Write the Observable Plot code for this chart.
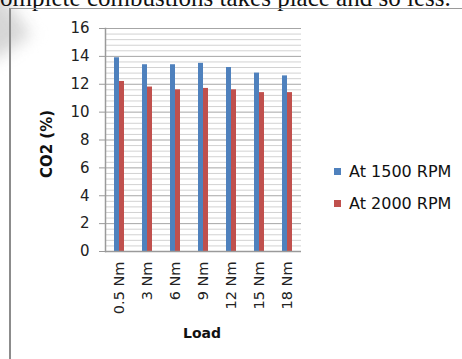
<!DOCTYPE html>
<html>
<head>
<meta charset="utf-8">
<script src="https://cdn.jsdelivr.net/npm/d3@7"></script>
<script src="https://cdn.jsdelivr.net/npm/@observablehq/plot@0.6"></script>
<style>
  html, body { margin: 0; padding: 0; background: #fff; }
  #page { position: relative; width: 462px; height: 359px; overflow: hidden; background: #fff; }
  #textline { position: absolute; left: -11px; top: -15.5px; font: 25px/25px "Liberation Serif", "Times New Roman", serif; color: #111; white-space: nowrap; }
  #shade { position: absolute; left: -30px; top: -6px; width: 48px; height: 60px; background: #d6d6d6; filter: blur(8px); transform: rotate(-35deg); }
  #box { position: absolute; left: 9px; top: 8px; width: 480px; height: 380px; border-left: 2px solid #8c8c8c; border-top: 1.5px solid #9a9a9a; box-sizing: border-box; }
  #chart { position: absolute; left: 0; top: 0; }
  .ytitle { position: absolute; left: 47px; top: 144px; transform: translate(-50%, -50%) rotate(-90deg); font: bold 15px "DejaVu Sans", sans-serif; color: #111; white-space: nowrap; }
  .xtitle { position: absolute; left: 202px; top: 333px; transform: translate(-50%, -50%); font: bold 14px "DejaVu Sans", sans-serif; color: #111; }
  #legend { position: absolute; left: 334px; top: 162px; font: 16px "DejaVu Sans", sans-serif; color: #111; }
  #legend .item { display: flex; align-items: center; height: 18px; margin-bottom: 14px; }
  #legend .sw { width: 7px; height: 7px; margin-right: 8px; }
</style>
</head>
<body>
<div id="page">
  <div id="shade"></div>
  <div id="textline">complete combustions takes place and so less.</div>
  <div id="box"></div>
  <div id="chart"></div>
  <div class="ytitle">CO2 (%)</div>
  <div class="xtitle">Load</div>
  <div id="legend"></div>
</div>
<script>
// CO2 emission (%) per engine load, at two engine speeds
const loads = ["0.5 Nm", "3 Nm", "6 Nm", "9 Nm", "12 Nm", "15 Nm", "18 Nm"];
const rpm1500 = [13.9, 13.4, 13.4, 13.5, 13.2, 12.8, 12.6];
const rpm2000 = [12.2, 11.8, 11.6, 11.7, 11.6, 11.4, 11.4];
const seriesNames = ["At 1500 RPM", "At 2000 RPM"];
const seriesColors = ["#4f81bd", "#c0504d"];
const yTicks = [0, 2, 4, 6, 8, 10, 12, 14, 16];

// long table: one row per bar
const rows = [];
loads.forEach((load, i) => {
  rows.push({load, series: seriesNames[0], value: rpm1500[i]});
  rows.push({load, series: seriesNames[1], value: rpm2000[i]});
});

// minor gridlines every 0.4 between the major ticks
const minorTicks = d3.range(0, 80 + 1).map(k => k * 0.2).filter((v, k) => k % 2 === 0 && k % 10 !== 0);

const chart = Plot.plot({
  width: 462,
  height: 359,
  marginLeft: 103,
  marginRight: 160,
  marginTop: 28,
  marginBottom: 108,
  style: {fontFamily: "DejaVu Sans, sans-serif", background: "transparent", overflow: "visible"},
  fx: {domain: loads, padding: 0, axis: null},
  x: {domain: seriesNames, paddingInner: 0, paddingOuter: 1.56, axis: null},
  y: {domain: [0, 16], axis: null},
  color: {domain: seriesNames, range: seriesColors},
  marks: [
    Plot.ruleY(minorTicks, {stroke: "#d2d2d2", strokeWidth: 1}),
    Plot.ruleY(yTicks.slice(1), {stroke: "#a6a6a6", strokeWidth: 1}),
    Plot.barY(rows, {fx: "load", x: "series", y: "value", fill: "series"}),
    Plot.ruleY([0], {stroke: "#9a9a9a", strokeWidth: 1.5}),
    Plot.frame({anchor: "left", facetAnchor: "left", stroke: "#9a9a9a", strokeWidth: 1.5}),
    Plot.axisY({ticks: yTicks, tickSize: 6, tickPadding: 10, fontSize: 15, stroke: "#9a9a9a", fill: "#222", label: null}),
    Plot.axisFx({anchor: "bottom", tickRotate: -90, tickSize: 0, tickPadding: 10, fontSize: 14.5, fill: "#222", label: null})
  ]
});
document.getElementById("chart").appendChild(chart);

// legend
const legend = document.getElementById("legend");
seriesNames.forEach((name, i) => {
  const item = document.createElement("div");
  item.className = "item";
  const sw = document.createElement("span");
  sw.className = "sw";
  sw.style.background = seriesColors[i];
  const label = document.createElement("span");
  label.textContent = name;
  item.appendChild(sw);
  item.appendChild(label);
  legend.appendChild(item);
});
</script>
</body>
</html>
